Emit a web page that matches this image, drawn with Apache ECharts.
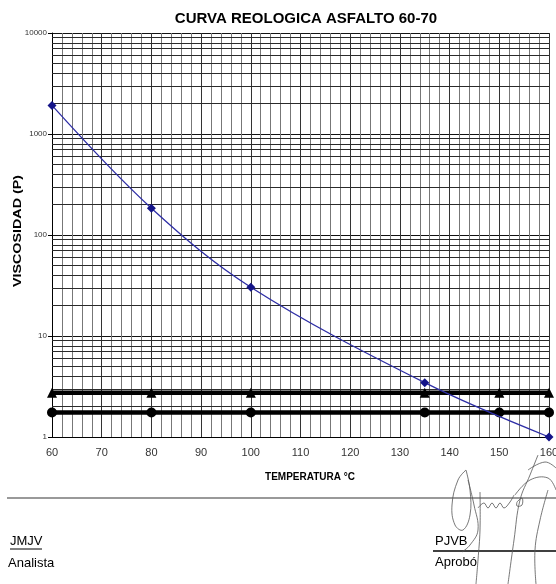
<!DOCTYPE html>
<html>
<head>
<meta charset="utf-8">
<script src="https://cdn.jsdelivr.net/npm/echarts@6/dist/echarts.min.js"></script>
<style>
html,body{margin:0;padding:0;background:#fff;}
#c{width:556px;height:584px;}
</style>
</head>
<body>
<div id="c"></div>
<script>
// ---- data ----
const temps = [60, 80, 100, 135, 160];
const viscosity = [1920, 184, 30.4, 3.45, 1.0];
const limitTemps = [60, 80, 100, 135, 150, 160];
const upperLimit = [2.75, 2.75, 2.75, 2.75, 2.75, 2.75];
const lowerLimit = [1.75, 1.75, 1.75, 1.75, 1.75, 1.75];
const decades = [1, 10, 100, 1000];
const minorMultipliers = [2, 3, 4, 5, 6, 7, 8, 9];
const yTickLabels = ['1', '10', '100', '1000', '10000'];
const title = 'CURVA REOLOGICA ASFALTO 60-70';
const xName = 'TEMPERATURA °C';
const yName = 'VISCOSIDAD (P)';

const minorGrid = [];
decades.forEach(d => minorMultipliers.forEach(m => minorGrid.push({ yAxis: d * m })));

const pair = (xs, ys) => xs.map((x, i) => [x, ys[i]]);
const FONT = '"Liberation Sans", Arial, sans-serif';

const chart = echarts.init(document.getElementById('c'), null, { renderer: 'canvas' });

const sigColor = '#555';
const sigLine = (points) => ({ type: 'polyline', shape: { points, smooth: 0.4 }, style: { stroke: sigColor, lineWidth: 0.8, fill: null }, silent: true });

chart.setOption({
  animation: false,
  backgroundColor: '#fff',
  grid: { left: 52, right: 7, top: 33, bottom: 147, containLabel: false, outerBoundsMode: 'none' },
  xAxis: {
    type: 'value', min: 60, max: 160, interval: 10,
    axisLine: { show: true, onZero: false, lineStyle: { color: '#000', width: 1 } },
    axisTick: { show: false },
    axisLabel: { color: '#333', fontSize: 11, fontFamily: FONT, margin: 10 },
    splitLine: { show: true, lineStyle: { color: '#333', width: 1 } },
    minorTick: { show: false, splitNumber: 5 },
    minorSplitLine: { show: true, lineStyle: { color: '#777', width: 1 } }
  },
  yAxis: {
    type: 'log', logBase: 10, min: 1, max: 10000,
    axisLine: { show: true, lineStyle: { color: '#000', width: 1 } },
    axisTick: { show: true, inside: false, length: 4, lineStyle: { color: '#000' } },
    axisLabel: {
      color: '#333', fontSize: 8, fontFamily: FONT, margin: 5,
      formatter: v => yTickLabels[Math.round(Math.log10(v))] ?? String(v)
    },
    splitLine: { show: true, lineStyle: { color: '#111', width: 1 } }
  },
  series: [
    {
      type: 'line', name: 'grid', data: [], silent: true,
      markLine: {
        silent: true, symbol: ['none', 'none'], z: 1, animation: false,
        label: { show: false },
        lineStyle: { color: '#2a2a2a', width: 1, type: 'solid' },
        emphasis: { disabled: true },
        data: minorGrid
      }
    },
    {
      type: 'line', name: 'superior', data: pair(limitTemps, upperLimit),
      symbol: 'triangle', symbolSize: 10, z: 3,
      lineStyle: { color: '#000', width: 4.5 }, itemStyle: { color: '#000' }
    },
    {
      type: 'line', name: 'inferior', data: pair(limitTemps, lowerLimit),
      symbol: 'circle', symbolSize: 10, z: 3,
      lineStyle: { color: '#000', width: 4.5 }, itemStyle: { color: '#000' }
    },
    {
      type: 'line', name: 'viscosidad', data: pair(temps, viscosity),
      smooth: 0.35, symbol: 'diamond', symbolSize: 9, z: 4,
      lineStyle: { color: '#2e2ea6', width: 1.3 }, itemStyle: { color: '#141488' }
    }
  ],
  graphic: [
    { type: 'text', x: 306, y: 19, style: { text: title, font: 'bold 15px ' + FONT, fill: '#000', textAlign: 'center', textVerticalAlign: 'middle' } },
    { type: 'text', x: 18, y: 231, rotation: Math.PI / 2, scaleX: 1.3,
      style: { text: yName, font: 'bold 11px ' + FONT, fill: '#000', textAlign: 'center', textVerticalAlign: 'middle' } },
    { type: 'text', x: 310, y: 477, style: { text: xName, font: 'bold 10px ' + FONT, fill: '#000', textAlign: 'center', textVerticalAlign: 'middle' } },
    { type: 'line', shape: { x1: 7, y1: 498, x2: 556, y2: 498 }, style: { stroke: '#999', lineWidth: 2 } },
    { type: 'text', x: 10, y: 541, style: { text: 'JMJV', font: '13px ' + FONT, fill: '#000', textVerticalAlign: 'middle' } },
    { type: 'line', shape: { x1: 10, y1: 549, x2: 42, y2: 549 }, style: { stroke: '#000', lineWidth: 1 } },
    { type: 'text', x: 8, y: 563, style: { text: 'Analista', font: '13px ' + FONT, fill: '#000', textVerticalAlign: 'middle' } },
    { type: 'text', x: 435, y: 541, style: { text: 'PJVB', font: '13px ' + FONT, fill: '#000', textVerticalAlign: 'middle' } },
    { type: 'line', shape: { x1: 433, y1: 551, x2: 556, y2: 551 }, style: { stroke: '#000', lineWidth: 1.5 } },
    { type: 'text', x: 435, y: 562, style: { text: 'Aprobó', font: '13px ' + FONT, fill: '#000', textVerticalAlign: 'middle' } },
    // signature strokes
    sigLine([[466, 470], [458, 480], [452, 505], [455, 525], [463, 530], [470, 515], [470, 490], [466, 470]]),
    sigLine([[468, 480], [474, 505], [478, 530], [470, 545], [462, 552]]),
    sigLine([[480, 492], [480, 530], [478, 560], [476, 584]]),
    sigLine([[478, 508], [484, 503], [488, 508], [492, 503], [496, 508], [500, 503], [504, 508], [510, 502], [514, 495]]),
    sigLine([[517, 502], [522, 498], [522, 505], [517, 506], [517, 502]]),
    sigLine([[538, 455], [530, 475], [520, 500], [514, 540], [508, 584]]),
    sigLine([[528, 470], [545, 462], [556, 468]]),
    sigLine([[515, 495], [530, 480], [548, 478], [556, 490]]),
    sigLine([[548, 490], [540, 520], [535, 550], [536, 584]])
  ]
});
</script>
</body>
</html>
